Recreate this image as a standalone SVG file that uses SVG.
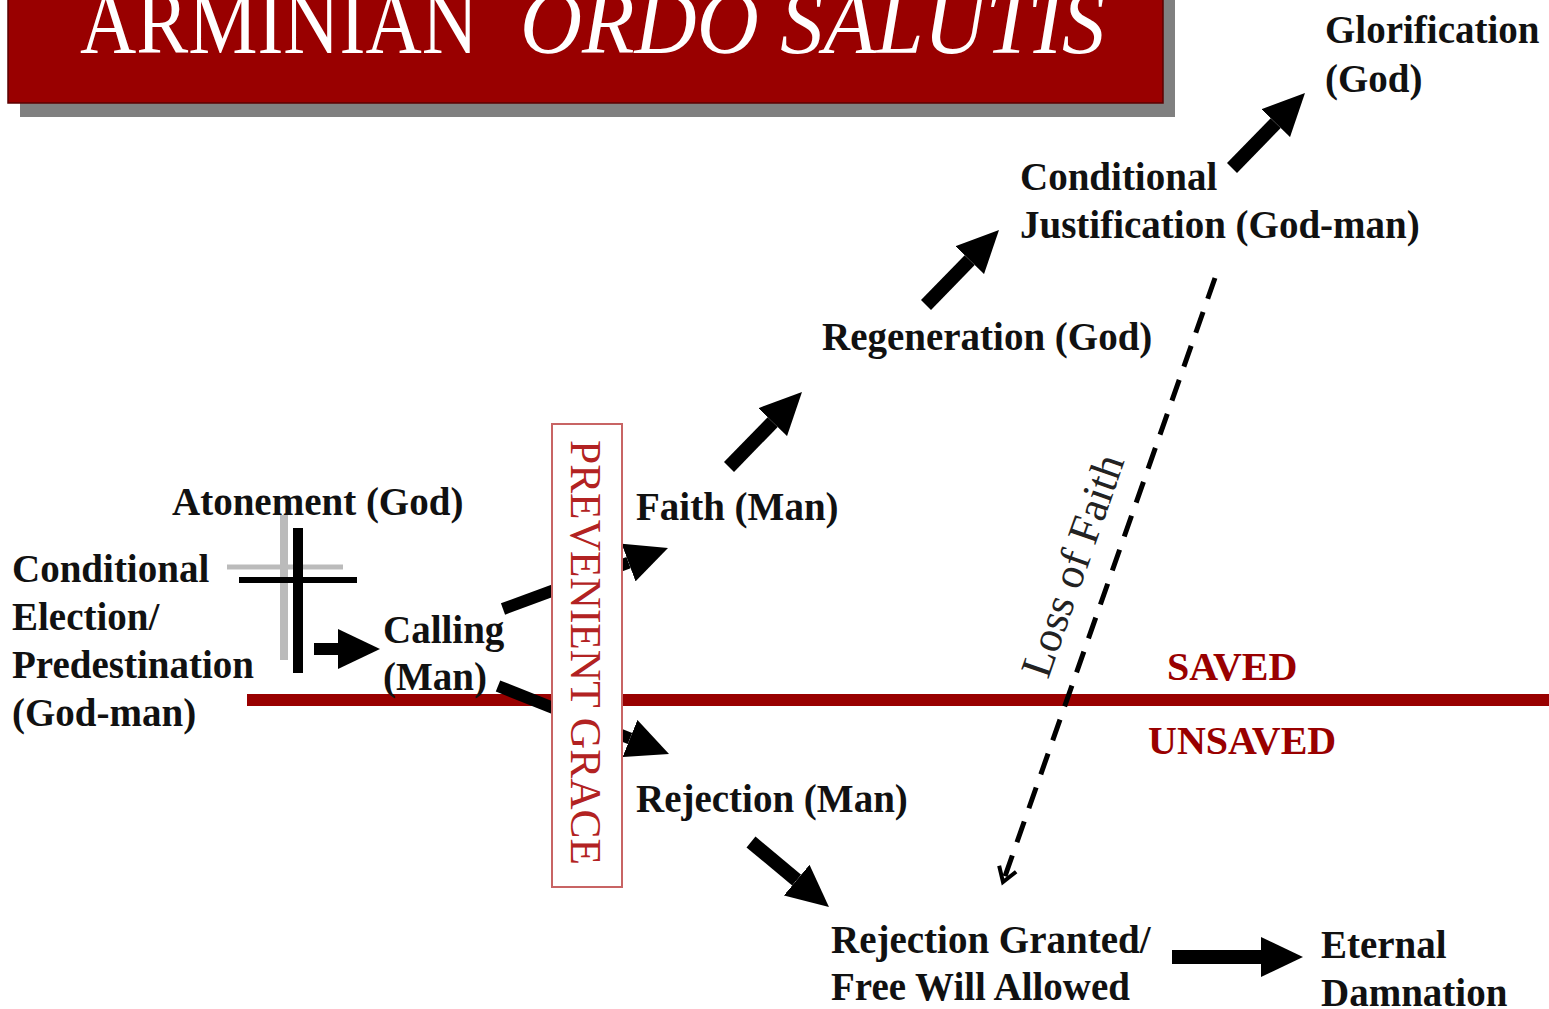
<svg xmlns="http://www.w3.org/2000/svg" width="1549" height="1009" viewBox="0 0 1549 1009">
  <style>
    .t { font-family: "Liberation Serif", "Times New Roman", serif; font-weight: bold; font-size: 39px; fill: #111; }
    .red { font-family: "Liberation Serif", "Times New Roman", serif; font-weight: bold; font-size: 40px; fill: #990000; }
    .arrow { stroke: #000; fill: none; marker-end: url(#head); }
    .title { font-family: "Liberation Serif", "Times New Roman", serif; font-size: 92px; fill: #fff; }
  </style>
  <defs>
    <marker id="head" markerUnits="userSpaceOnUse" viewBox="0 0 42 40" refX="0" refY="20" markerWidth="42" markerHeight="40" orient="auto">
      <path d="M0,0 L42,20 L0,40 Z" fill="#000"/>
    </marker>
    <marker id="small" markerUnits="userSpaceOnUse" viewBox="0 0 24 24" refX="20" refY="12" markerWidth="24" markerHeight="24" orient="auto">
      <path d="M6,3 L20,12 L6,21" fill="none" stroke="#000" stroke-width="4"/>
    </marker>
  </defs>

  <rect width="1549" height="1009" fill="#fff"/>

  <g id="title">
    <rect x="20" y="-20" width="1155" height="137" fill="#808080"/>
    <rect x="8" y="-20" width="1155" height="123" fill="#990000" stroke="#5a0000" stroke-width="1.5"/>
    <text class="title" x="80" y="53" textLength="398" lengthAdjust="spacingAndGlyphs">ARMINIAN</text>
    <text class="title" x="520" y="53" font-style="italic" textLength="585" lengthAdjust="spacingAndGlyphs">ORDO SALUTIS</text>
  </g>

  <g id="divider">
    <line x1="247" y1="700" x2="1549" y2="700" stroke="#990000" stroke-width="12"/>
    <text class="red" x="1167" y="680">SAVED</text>
    <text class="red" x="1148" y="754">UNSAVED</text>
  </g>

  <g id="connectors">
    <line class="arrow" x1="314" y1="649" x2="338" y2="649" stroke-width="12"/>
    <line class="arrow" x1="503" y1="609" x2="628.6" y2="562.6" stroke-width="12"/>
    <line class="arrow" x1="498" y1="686" x2="630" y2="738.5" stroke-width="12"/>
    <line class="arrow" x1="729" y1="467" x2="772.7" y2="422.1" stroke-width="14"/>
    <line class="arrow" x1="926" y1="305" x2="969.7" y2="260.1" stroke-width="14"/>
    <line class="arrow" x1="1232" y1="168" x2="1275.7" y2="123.1" stroke-width="14"/>
    <line class="arrow" x1="751" y1="842" x2="796.7" y2="880.1" stroke-width="14"/>
    <line class="arrow" x1="1172" y1="957" x2="1261" y2="957" stroke-width="14"/>
    <line x1="1215" y1="278" x2="1003" y2="882" stroke="#000" stroke-width="5" stroke-dasharray="22 14" marker-end="url(#small)"/>
    <text x="1048" y="680" transform="rotate(-70.7 1048 680)" font-family="Liberation Serif, Times New Roman, serif" font-size="44" fill="#222">Loss of Faith</text>
  </g>

  <g id="prevenient-grace">
    <rect x="552" y="424" width="70" height="463" fill="#fff" stroke="#c86464" stroke-width="2"/>
    <text x="571" y="440" transform="rotate(90 571 440)" font-family="Liberation Serif, Times New Roman, serif" font-size="44" fill="#b22222" textLength="425" lengthAdjust="spacingAndGlyphs">PREVENIENT GRACE</text>
  </g>

  <g id="cross">
    <line x1="284" y1="515" x2="284" y2="660" stroke="#bbb" stroke-width="8"/>
    <line x1="227" y1="567" x2="343" y2="567" stroke="#bbb" stroke-width="5"/>
    <line x1="298" y1="528" x2="298" y2="673" stroke="#000" stroke-width="10"/>
    <line x1="239" y1="580" x2="357" y2="580" stroke="#000" stroke-width="6"/>
  </g>

  <g id="atonement"><text class="t" x="172" y="515">Atonement (God)</text></g>
  <g id="election">
    <text class="t" x="12" y="582">Conditional</text>
    <text class="t" x="12" y="630">Election/</text>
    <text class="t" x="12" y="678">Predestination</text>
    <text class="t" x="12" y="726">(God-man)</text>
  </g>
  <g id="calling">
    <text class="t" x="383" y="643">Calling</text>
    <text class="t" x="383" y="690">(Man)</text>
  </g>
  <g id="faith"><text class="t" x="636" y="520">Faith (Man)</text></g>
  <g id="regeneration"><text class="t" x="822" y="350">Regeneration (God)</text></g>
  <g id="justification">
    <text class="t" x="1020" y="190">Conditional</text>
    <text class="t" x="1020" y="238">Justification (God-man)</text>
  </g>
  <g id="glorification">
    <text class="t" x="1325" y="43">Glorification</text>
    <text class="t" x="1325" y="92">(God)</text>
  </g>
  <g id="rejection"><text class="t" x="636" y="812">Rejection (Man)</text></g>
  <g id="rejection-granted">
    <text class="t" x="831" y="953">Rejection Granted/</text>
    <text class="t" x="831" y="1000">Free Will Allowed</text>
  </g>
  <g id="damnation">
    <text class="t" x="1321" y="958">Eternal</text>
    <text class="t" x="1321" y="1006">Damnation</text>
  </g>
</svg>
